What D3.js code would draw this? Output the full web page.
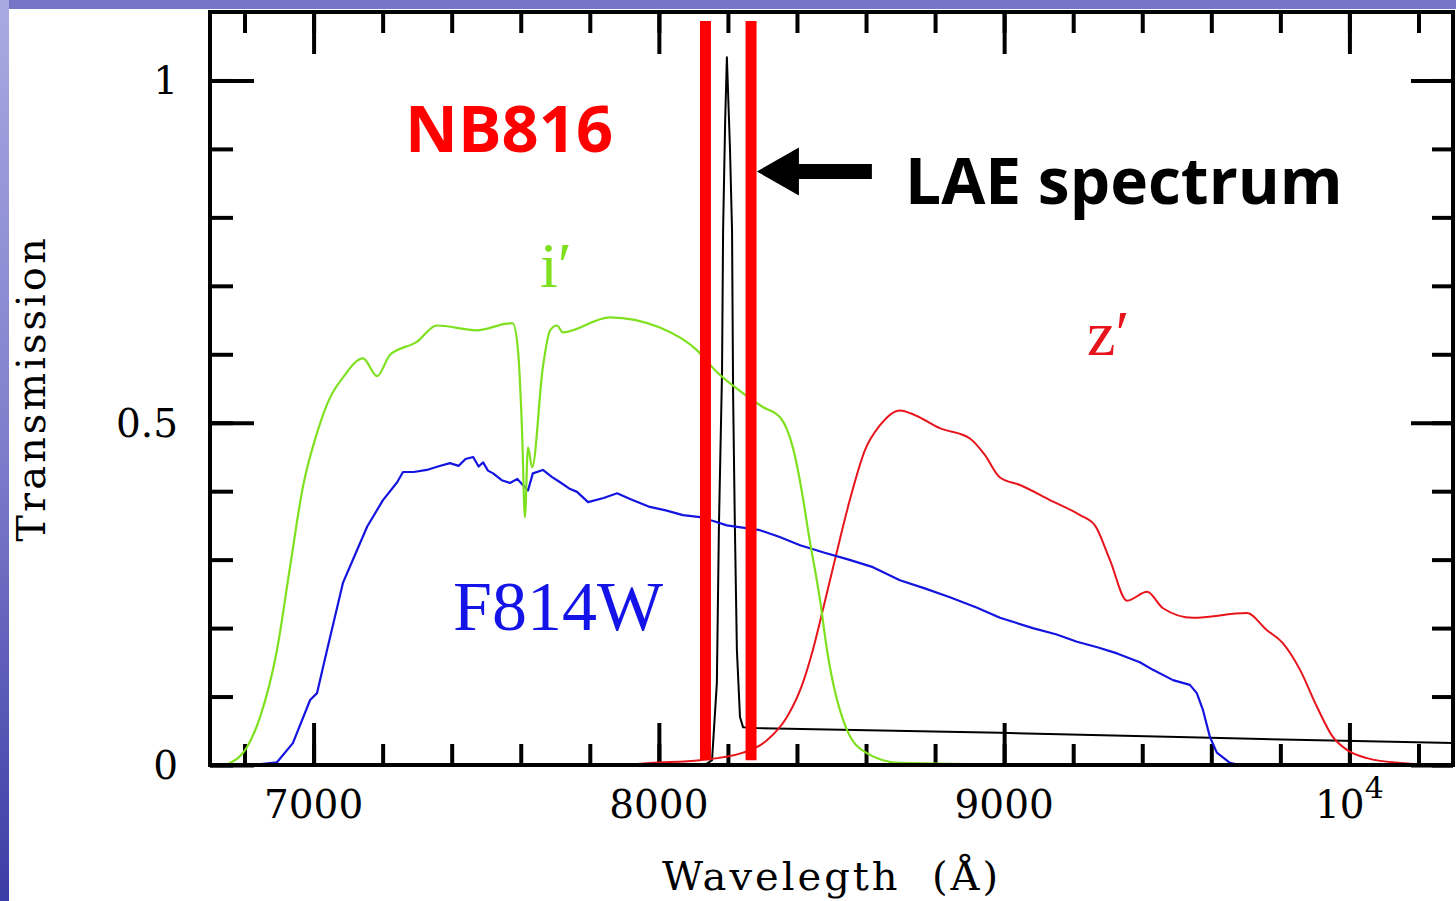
<!DOCTYPE html>
<html>
<head>
<meta charset="utf-8">
<script src="https://cdn.jsdelivr.net/npm/d3@7"></script>
<style>
  body { margin: 0; background: #fff; }
  svg { display: block; }
</style>
</head>
<body>
<div id="chart"></div>
<script>
// filter curves (wavelength in Angstrom, transmission)
var iWave  = [6743, 6758, 6807, 6845, 6894, 6932, 6969, 7010, 7048, 7085, 7143, 7184, 7221, 7299, 7357, 7473, 7569, 7577, 7592, 7604, 7612, 7621, 7633, 7664, 7685, 7705, 7722, 7858, 8003, 8110, 8168, 8244, 8301, 8351, 8388, 8417, 8432, 8467, 8487, 8545, 8603, 8698, 9190];
var iTrans = [0, 0.003, 0.026, 0.07, 0.168, 0.29, 0.406, 0.485, 0.537, 0.566, 0.594, 0.568, 0.599, 0.618, 0.642, 0.635, 0.645, 0.645, 0.606, 0.485, 0.362, 0.464, 0.435, 0.581, 0.635, 0.642, 0.632, 0.654, 0.639, 0.606, 0.574, 0.543, 0.523, 0.508, 0.464, 0.391, 0.343, 0.24, 0.168, 0.051, 0.017, 0.003, 0];

var f814Wave  = [6825, 6894, 6940, 6990, 7010, 7039, 7085, 7126, 7155, 7201, 7242, 7259, 7290, 7328, 7360, 7395, 7420, 7440, 7462, 7478, 7491, 7505, 7520, 7545, 7569, 7590, 7606, 7621, 7635, 7664, 7690, 7714, 7740, 7763, 7795, 7840, 7879, 7920, 7974, 8020, 8070, 8119, 8160, 8197, 8293, 8350, 8409, 8480, 8550, 8620, 8698, 8770, 8843, 8920, 8988, 9083, 9150, 9211, 9270, 9327, 9393, 9431, 9489, 9538, 9558, 9576, 9596, 9616, 9654, 9683, 10300];
var f814Trans = [0, 0.004, 0.032, 0.095, 0.105, 0.168, 0.266, 0.314, 0.348, 0.387, 0.413, 0.428, 0.428, 0.431, 0.436, 0.441, 0.437, 0.447, 0.45, 0.436, 0.442, 0.43, 0.426, 0.416, 0.412, 0.418, 0.409, 0.401, 0.426, 0.431, 0.421, 0.413, 0.404, 0.399, 0.384, 0.39, 0.397, 0.388, 0.377, 0.372, 0.365, 0.362, 0.356, 0.35, 0.343, 0.333, 0.321, 0.31, 0.3, 0.289, 0.27, 0.258, 0.245, 0.23, 0.215, 0.2, 0.191, 0.18, 0.172, 0.163, 0.15, 0.139, 0.124, 0.117, 0.105, 0.08, 0.041, 0.018, 0.003, 0, 0];

var zWave  = [7900, 7974, 8119, 8244, 8313, 8371, 8417, 8446, 8467, 8510, 8553, 8597, 8640, 8698, 8742, 8814, 8901, 8944, 8988, 9046, 9133, 9220, 9263, 9306, 9356, 9414, 9460, 9547, 9703, 9761, 9807, 9857, 9906, 9952, 9993, 10051, 10146, 10300];
var zTrans = [0, 0.003, 0.007, 0.018, 0.036, 0.07, 0.12, 0.168, 0.21, 0.3, 0.387, 0.46, 0.496, 0.518, 0.511, 0.492, 0.477, 0.453, 0.42, 0.409, 0.387, 0.365, 0.35, 0.3, 0.24, 0.253, 0.229, 0.215, 0.222, 0.197, 0.178, 0.139, 0.085, 0.041, 0.022, 0.01, 0.003, 0];

var laeWave = [8133, 8154, 8168, 8174, 8183, 8186, 8192, 8197, 8206, 8212, 8215, 8220, 8226, 8235, 8244, 8284, 8988, 9567, 10300];
var laeFlux = [0, 0.007, 0.12, 0.35, 0.575, 0.78, 0.94, 1.034, 0.9, 0.78, 0.543, 0.353, 0.168, 0.07, 0.055, 0.054, 0.047, 0.04, 0.032];

// NB816 filter edges
var nbEdges = [8135, 8267];

// axis ticks
var xMajor = [7000, 8000, 9000, 10000];
var xMinor = d3.range(6800, 10300, 200);
var yMajor = [0, 0.5, 1];
var yMinor = d3.range(0, 1.1, 0.1);
var yLabels = ["0", "0.5", "1"];

var svgWidth = 1456;
var svgHeight = 901;

var margin = { top: 12, right: 3, bottom: 136, left: 210 };

var svg = d3.select("#chart").append("svg")
    .attr("width", svgWidth)
    .attr("height", svgHeight);

// slide background bands
var grad = svg.append("defs").append("linearGradient")
    .attr("id", "band")
    .attr("x1", 0).attr("y1", 0).attr("x2", 0).attr("y2", 1);
grad.append("stop").attr("offset", "0%").attr("stop-color", "#a9a9e2");
grad.append("stop").attr("offset", "50%").attr("stop-color", "#7d7dcc");
grad.append("stop").attr("offset", "100%").attr("stop-color", "#3c3ca6");

svg.append("rect").attr("x", 0).attr("y", 0).attr("width", svgWidth).attr("height", 9).attr("fill", "#7676c8");
svg.append("rect").attr("x", 0).attr("y", 0).attr("width", 9).attr("height", svgHeight).attr("fill", "url(#band)");

var x = d3.scaleLinear().domain([6700, 10300]).range([margin.left, svgWidth - margin.right]);
var y = d3.scaleLinear().domain([0, 1.1]).range([svgHeight - margin.bottom, margin.top]);

var x0 = x.range()[0], x1 = x.range()[1], y0 = y.range()[0], y1 = y.range()[1];

// tick helper: draws ticks pointing inward, no domain path
function ticks(axisFn, values, size, transform) {
    var g = svg.append("g")
        .attr("transform", transform)
        .call(axisFn.tickValues(values).tickSize(size).tickFormat(""));
    g.select(".domain").remove();
    g.selectAll("line").attr("stroke", "#000").attr("stroke-width", 4);
    return g;
}

ticks(d3.axisBottom(x), xMinor, -21, `translate(0, ${y0})`);
ticks(d3.axisBottom(x), xMajor, -42, `translate(0, ${y0})`);
ticks(d3.axisTop(x), xMinor, -21, `translate(0, ${y1})`);
ticks(d3.axisTop(x), xMajor, -42, `translate(0, ${y1})`);
ticks(d3.axisLeft(y), yMinor, -23, `translate(${x0}, 0)`);
ticks(d3.axisLeft(y), yMajor, -44, `translate(${x0}, 0)`);
ticks(d3.axisRight(y), yMinor, -21, `translate(${x1}, 0)`);
ticks(d3.axisRight(y), yMajor, -42, `translate(${x1}, 0)`);

// tick labels
var labelFont = "'DejaVu Serif', serif";

var xLab = svg.append("g");
xMajor.forEach(function (v) {
    var t = xLab.append("text")
        .attr("x", x(v))
        .attr("y", y0 + 53)
        .attr("text-anchor", "middle")
        .attr("font-family", labelFont)
        .attr("font-size", 39)
        .attr("fill", "#000");
    if (v === 10000) {
        t.append("tspan").text("10");
        t.append("tspan").attr("dy", -20).attr("font-size", 30).text("4");
    }
    else {
        t.text(v);
    }
});

yMajor.forEach(function (v, i) {
    svg.append("text")
        .attr("x", x0 - 32)
        .attr("y", y(v) + 14)
        .attr("text-anchor", "end")
        .attr("font-family", labelFont)
        .attr("font-size", 39)
        .attr("fill", "#000")
        .text(yLabels[i]);
});

// axis titles
svg.append("text")
    .attr("x", (x0 + x1) / 2)
    .attr("y", 890)
    .attr("text-anchor", "middle")
    .attr("font-family", labelFont)
    .attr("font-size", 40)
    .attr("letter-spacing", 3)
    .style("white-space", "pre")
    .text("Wavelegth  (\u00c5)");

svg.append("text")
    .attr("transform", `translate(45, ${(y0 + y1) / 2}) rotate(-90)`)
    .attr("text-anchor", "middle")
    .attr("font-family", labelFont)
    .attr("font-size", 40)
    .attr("letter-spacing", 3)
    .text("Transmission");

// curves
var plot = svg.append("g");

function curve(wave, trans, color, width, smooth) {
    var pts = wave.map(function (w, i) { return [w, trans[i]]; });
    plot.append("path")
        .datum(pts)
        .attr("fill", "none")
        .attr("stroke", color)
        .attr("stroke-width", width)
        .attr("stroke-linejoin", "round")
        .attr("d", d3.line().x(d => x(d[0])).y(d => y(d[1]))
            .curve(smooth ? d3.curveMonotoneX : d3.curveLinear));
}

curve(laeWave, laeFlux, "#000", 2, false);
curve(zWave, zTrans, "#e8141c", 2, true);
curve(f814Wave, f814Trans, "#1414e0", 2.2, false);
curve(iWave, iTrans, "#7ee01e", 2.2, true);

// NB816 edges
plot.selectAll(".nb")
    .data(nbEdges)
    .enter()
    .append("line")
    .attr("x1", d => x(d))
    .attr("x2", d => x(d))
    .attr("y1", y(1.087))
    .attr("y2", y(0.007))
    .attr("stroke", "#ff0000")
    .attr("stroke-width", 11);

// plot frame
svg.append("rect")
    .attr("x", x0)
    .attr("y", y1)
    .attr("width", x1 - x0)
    .attr("height", y0 - y1)
    .attr("fill", "none")
    .attr("stroke", "#000")
    .attr("stroke-width", 4);

// arrow to the LAE spectrum
var tip = [x(8284), y(0.867)];
var tail = x(8617);
svg.append("path")
    .attr("fill", "#000")
    .attr("d", `M${tip[0]},${tip[1]} L${tip[0] + 42},${tip[1] - 24} L${tip[0] + 42},${tip[1] - 7.5} L${tail},${tip[1] - 7.5} L${tail},${tip[1] + 7.5} L${tip[0] + 42},${tip[1] + 7.5} L${tip[0] + 42},${tip[1] + 24} Z`);

// annotations
var boldFont = "'Open Sans', 'DejaVu Sans', sans-serif";
svg.append("text")
    .attr("x", x(7265)).attr("y", y(0.895))
    .attr("font-family", boldFont).attr("font-weight", "bold").attr("font-size", 65)
    .attr("fill", "#ff0000")
    .text("NB816");

svg.append("text")
    .attr("x", x(8713)).attr("y", y(0.819))
    .attr("font-family", boldFont).attr("font-weight", "bold").attr("font-size", 64)
    .attr("fill", "#000")
    .text("LAE spectrum");

var serif = "'Liberation Serif', serif";
svg.append("text")
    .attr("x", x(7656)).attr("y", y(0.698))
    .attr("font-family", serif).attr("font-size", 64)
    .attr("fill", "#7ee01e")
    .text("i\u2032");

svg.append("text")
    .attr("x", x(9240)).attr("y", y(0.599))
    .attr("font-family", serif).attr("font-size", 64)
    .attr("fill", "#e8141c")
    .text("z\u2032");

svg.append("text")
    .attr("x", x(7404)).attr("y", y(0.197))
    .attr("font-family", serif).attr("font-size", 70)
    .attr("fill", "#1414e8")
    .text("F814W");
</script>
</body>
</html>
